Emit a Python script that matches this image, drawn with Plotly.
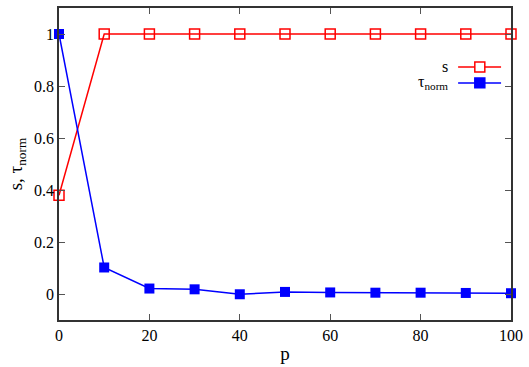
import plotly.graph_objects as go

p = [0, 10, 20, 30, 40, 50, 60, 70, 80, 90, 100]
s_vals = [0.38, 1, 1, 1, 1, 1, 1, 1, 1, 1, 1]
tau_norm = [1.0, 0.102, 0.021, 0.018, -0.001, 0.008, 0.006, 0.005, 0.005, 0.004, 0.003]
x_ticks = [0, 20, 40, 60, 80, 100]
y_ticks = [0, 0.2, 0.4, 0.6, 0.8, 1]
y_tick_labels = ["0", "0.2", "0.4", "0.6", "0.8", "1"]

FONT = "Liberation Serif"

fig = go.Figure()
fig.add_trace(go.Scatter(x=p, y=s_vals, mode="lines+markers", name="s",
                         line=dict(color="#ff0000", width=1.5),
                         marker=dict(symbol="square-open", size=10, color="#ff0000",
                                     line=dict(width=1.5, color="#ff0000")),
                         showlegend=False, cliponaxis=False))
fig.add_trace(go.Scatter(x=p, y=tau_norm, mode="lines+markers", name="τnorm",
                         line=dict(color="#0000ff", width=1.5),
                         marker=dict(symbol="square", size=10, color="#0000ff"),
                         showlegend=False, cliponaxis=False))

axis_common = dict(showgrid=False, zeroline=False, ticks="inside", ticklen=6,
                   tickcolor="#555555", showline=True, linecolor="#333333",
                   linewidth=1.5, mirror="ticks",
                   tickfont=dict(family=FONT, size=16, color="black"))

fig.update_xaxes(range=[0, 100], tickvals=x_ticks,
                 title=dict(text="p", font=dict(family=FONT, size=19, color="black"), standoff=4),
                 **axis_common)
fig.update_yaxes(range=[-0.1, 1.1], tickvals=y_ticks, ticktext=y_tick_labels,
                 title=dict(text="s, τ<sub>norm</sub>", font=dict(family=FONT, size=19, color="black"), standoff=6),
                 **axis_common)

# custom gnuplot-style key
PW, PH = 452, 317
legend_items = [("s", "#ff0000", "square-open", 0.811), ("τ<sub>norm</sub>", "#0000ff", "square", 0.760)]
for label, color, sym, yy in legend_items:
    fig.add_annotation(x=0.866, y=yy, xref="paper", yref="paper", text=label, showarrow=False,
                       xanchor="right", yanchor="middle", xshift=0,
                       font=dict(family=FONT, size=16, color="black"))
    fig.add_shape(type="line", xref="paper", yref="paper", x0=0.883, x1=0.978, y0=yy, y1=yy,
                  line=dict(color=color, width=1.5))
    dx, dy = 5 / PW, 5 / PH
    fig.add_shape(type="rect", xref="paper", yref="paper", x0=0.931 - dx, x1=0.931 + dx,
                  y0=yy - dy, y1=yy + dy,
                  line=dict(color=color, width=1.5),
                  fillcolor=color if sym == "square" else "white")

fig.update_layout(width=529, height=367, margin=dict(l=59, r=18, t=6, b=44),
                  plot_bgcolor="white", paper_bgcolor="white",
                  font=dict(family=FONT, color="black"))

fig.write_html("out.html", config={"displayModeBar": False},
               post_script="document.body.style.margin='0';document.body.style.overflow='hidden';")
